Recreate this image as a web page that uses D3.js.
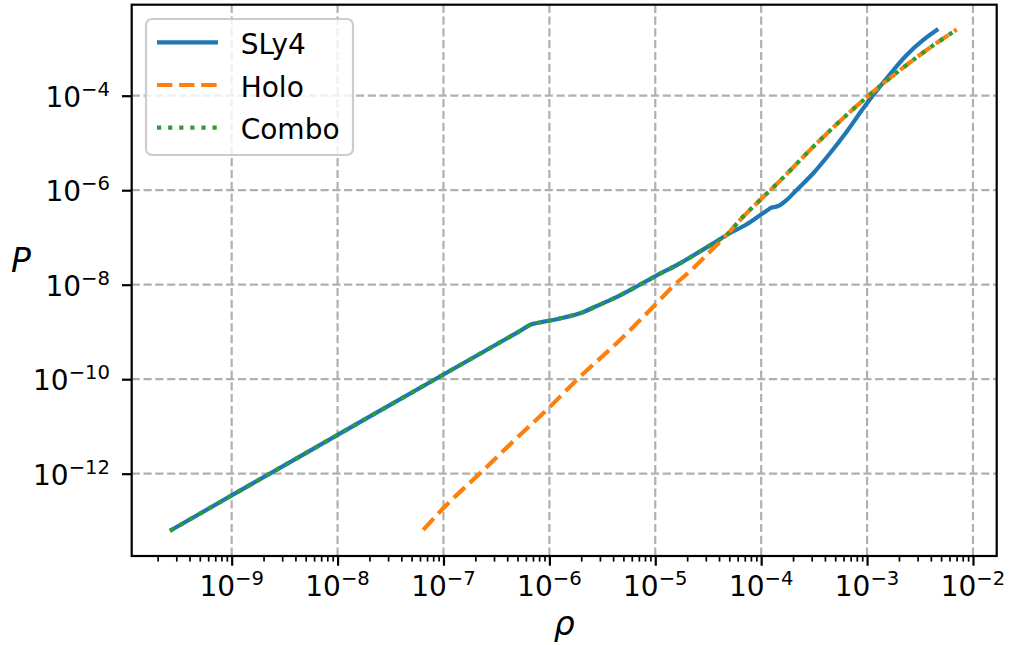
<!DOCTYPE html>
<html>
<head>
<meta charset="utf-8">
<script src="https://cdn.jsdelivr.net/npm/d3@7"></script>
<style>
  body { margin: 0; background: #fff; }
  text { font-family: "DejaVu Sans", sans-serif; }
</style>
</head>
<body>
<svg id="chart" width="1010" height="645"></svg>
<script>
// values, as log10 exponents
const sly4LogRho = [-9.583, -9.0, -8.0, -7.0, -6.30, -6.167, -6.080, -6.003, -5.869, -5.711, -5.553, -5.397, -5.208, -5.019, -4.767, -4.452, -4.326, -4.137, -3.948, -3.900, -3.870, -3.835, -3.759, -3.665, -3.508, -3.350, -3.193, -3.036, -2.942, -2.815, -2.626, -2.469, -2.328];
const sly4LogP   = [-13.21, -12.46, -11.18, -9.90, -9.008, -8.838, -8.795, -8.762, -8.698, -8.606, -8.451, -8.296, -8.076, -7.843, -7.547, -7.124, -6.948, -6.722, -6.434, -6.368, -6.355, -6.330, -6.207, -5.996, -5.642, -5.219, -4.762, -4.267, -3.985, -3.632, -3.139, -2.821, -2.589];

const holoLogRho = [-7.191, -7.002, -6.655, -6.278, -5.994, -5.742, -5.333, -5.019, -4.830, -4.641, -4.452, -4.326, -4.200, -4.011, -3.822, -3.508, -3.193, -2.942, -2.688, -2.437, -2.153];
const holoLogP   = [-13.19, -12.732, -11.992, -11.181, -10.582, -10.017, -9.170, -8.466, -8.028, -7.653, -7.230, -6.948, -6.631, -6.210, -5.800, -5.080, -4.408, -3.915, -3.456, -3.033, -2.597];

const comboLogRho = [-9.583, -9.0, -8.0, -7.0, -6.30, -6.167, -6.080, -6.003, -5.869, -5.711, -5.553, -5.397, -5.208, -5.019, -4.767, -4.452, -4.326, -4.200, -4.011, -3.822, -3.508, -3.193, -2.942, -2.688, -2.437, -2.153];
const comboLogP   = [-13.21, -12.46, -11.18, -9.90, -9.008, -8.838, -8.795, -8.762, -8.698, -8.606, -8.451, -8.296, -8.076, -7.843, -7.547, -7.124, -6.948, -6.631, -6.210, -5.800, -5.080, -4.408, -3.915, -3.456, -3.033, -2.597];

const seriesNames = ["SLy4", "Holo", "Combo"];
const seriesColors = ["#1f77b4", "#ff7f0e", "#2ca02c"];
const seriesDash = [null, "15.4,6.7", "4.2,6.9"];

const xLimExp = [-9.944, -1.776];
const yLimExp = [-13.742, -2.074];
const xTickExp = [-9, -8, -7, -6, -5, -4, -3, -2];
const yTickExp = [-12, -10, -8, -6, -4];

const svg = d3.select("#chart"),
  margin = {top: 4.7, right: 13.3, bottom: 89, left: 131.7},
  width = +svg.attr("width") - margin.left - margin.right,
  height = +svg.attr("height") - margin.top - margin.bottom,
  g = svg.append("g").attr("transform", `translate(${margin.left},${margin.top})`);

const x = d3.scaleLog().domain(xLimExp.map(e => 10 ** e)).range([0, width]);
const y = d3.scaleLog().domain(yLimExp.map(e => 10 ** e)).range([height, 0]);

const xMajor = xTickExp.map(e => 10 ** e);
const yMajor = yTickExp.map(e => 10 ** e);
const xMinor = [];
for (let e = -10; e <= -2; e++) {
  for (let m = 2; m <= 9; m++) {
    const v = m * 10 ** e;
    if (v > x.domain()[0] && v < x.domain()[1]) xMinor.push(v);
  }
}

// grid
g.append("g").selectAll("line").data(xMajor).join("line")
  .attr("x1", d => x(d)).attr("x2", d => x(d))
  .attr("y1", 0).attr("y2", height)
  .attr("stroke", "#b0b0b0").attr("stroke-width", 2.2).attr("stroke-dasharray", "8.2,3.6");
g.append("g").selectAll("line").data(yMajor).join("line")
  .attr("x1", 0).attr("x2", width)
  .attr("y1", d => y(d)).attr("y2", d => y(d))
  .attr("stroke", "#b0b0b0").attr("stroke-width", 2.2).attr("stroke-dasharray", "8.2,3.6");

// curves
const toPoints = (rx, ry) => rx.map((r, i) => ({rho: 10 ** r, p: 10 ** ry[i]}));
const curves = [
  toPoints(sly4LogRho, sly4LogP),
  toPoints(holoLogRho, holoLogP),
  toPoints(comboLogRho, comboLogP)
];

const line = d3.line()
  .curve(d3.curveMonotoneX)
  .x(d => x(d.rho))
  .y(d => y(d.p));

curves.forEach((data, i) => {
  g.append("path")
    .datum(data)
    .attr("fill", "none")
    .attr("stroke", seriesColors[i])
    .attr("stroke-width", 4.2)
    .attr("stroke-linejoin", "round")
    .attr("stroke-dasharray", seriesDash[i])
    .attr("d", line);
});

// axes
const styleAxis = (sel, w) => {
  sel.select(".domain").remove();
  sel.selectAll(".tick line").attr("stroke", "#000").attr("stroke-width", w);
};
g.append("g")
  .attr("transform", `translate(0,${height})`)
  .call(d3.axisBottom(x).tickValues(xMinor).tickSize(5.6).tickFormat(""))
  .call(s => styleAxis(s, 1.7));
g.append("g")
  .attr("transform", `translate(0,${height})`)
  .call(d3.axisBottom(x).tickValues(xMajor).tickSize(9.7).tickFormat(""))
  .call(s => styleAxis(s, 2.2));
g.append("g")
  .call(d3.axisLeft(y).tickValues(yMajor).tickSize(9.7).tickFormat(""))
  .call(s => styleAxis(s, 2.2));

// tick labels
const expLabel = (sel, e) => {
  sel.append("tspan").text("10");
  sel.append("tspan").attr("dy", -11).attr("font-size", 19.6).text("\u2212" + Math.abs(e));
};
xTickExp.forEach(e => {
  g.append("text")
    .attr("x", x(10 ** e)).attr("y", height + 40)
    .attr("text-anchor", "middle").attr("font-size", 28)
    .call(s => expLabel(s, e));
});
yTickExp.forEach(e => {
  g.append("text")
    .attr("x", -21.7).attr("y", y(10 ** e) + 11.3)
    .attr("text-anchor", "end").attr("font-size", 28)
    .call(s => expLabel(s, e));
});

// axis labels
svg.append("text")
  .attr("x", margin.left + width / 2).attr("y", 635)
  .attr("text-anchor", "middle").attr("font-size", 33).attr("font-style", "italic")
  .text("\u03C1");
svg.append("text")
  .attr("x", 21).attr("y", 272)
  .attr("text-anchor", "middle").attr("font-size", 33).attr("font-style", "italic")
  .text("P");

// frame
g.append("rect")
  .attr("width", width).attr("height", height)
  .attr("fill", "none").attr("stroke", "#000").attr("stroke-width", 2.2);

// legend
const legend = svg.append("g");
legend.append("rect")
  .attr("x", 146).attr("y", 19).attr("width", 207).attr("height", 136).attr("rx", 6)
  .attr("fill", "#fff").attr("fill-opacity", 0.8)
  .attr("stroke", "#cccccc").attr("stroke-width", 2.2);
seriesNames.forEach((name, i) => {
  const ly = 42.3 + i * 42.7;
  legend.append("line")
    .attr("x1", 157).attr("x2", 218).attr("y1", ly).attr("y2", ly)
    .attr("stroke", seriesColors[i]).attr("stroke-width", 4.2)
    .attr("stroke-dasharray", seriesDash[i]);
  legend.append("text")
    .attr("x", 240.7).attr("y", ly + 11.7)
    .attr("font-size", 28)
    .text(name);
});
</script>
</body>
</html>
